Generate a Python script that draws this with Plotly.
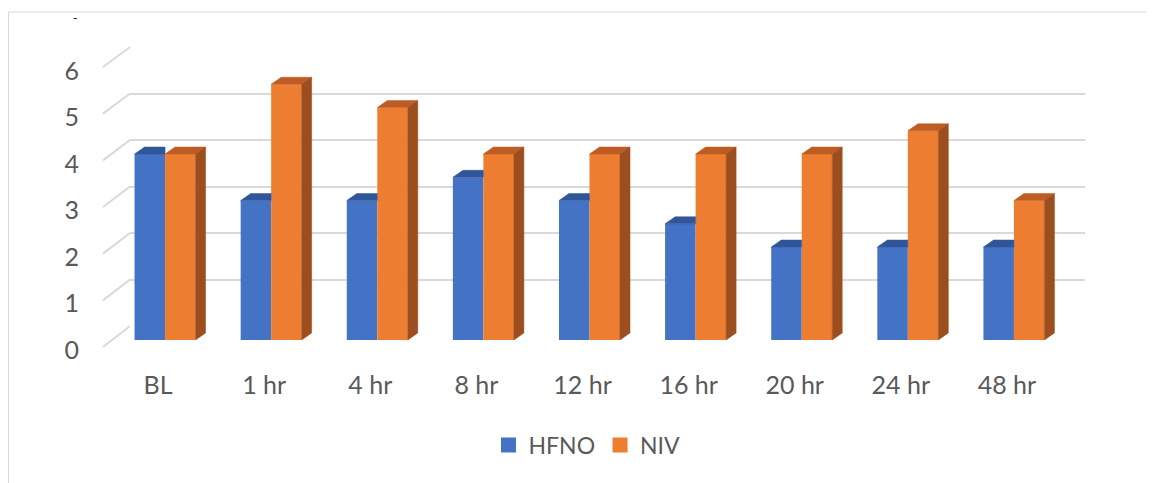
import plotly.graph_objects as go

# ---------------- data ----------------
categories = ["BL", "1 hr", "4 hr", "8 hr", "12 hr", "16 hr", "20 hr", "24 hr", "48 hr"]
hfno = [4, 3, 3, 3.5, 3, 2.5, 2, 2, 2]
niv = [4, 5.5, 5, 4, 4, 4, 4, 4.5, 3]
y_ticks = [0, 1, 2, 3, 4, 5, 6]
series_names = ["HFNO", "NIV"]

# ---------------- style / geometry (screen pixels) ----------------
OFF = 8                      # page body margin
W, H = 1154 - OFF, 483 - OFF
FONT = "Lato, 'Liberation Sans', Arial, sans-serif"
TXT = "#595959"
GRID = "#d9d9d9"
BLUE, BLUE_TOP = "#4472C4", "#30569A"
ORANGE, ORANGE_TOP, ORANGE_SIDE = "#ED7D31", "#BE5D23", "#9C4E1F"

N = len(categories)
YMAX = y_ticks[-1]
BAR_X = (112, 1067)          # front plane of bars, category band -0.5 .. N-0.5
BAR_Y0, UNIT = 340, 46.5     # pixel of value 0, pixels per unit
BACK_X = (130, 1085)         # back wall
BACK_Y0 = 326
FLOOR_X, FLOOR_Y0, FLOOR_Y6 = 103, 347, 67  # front edge of the floor
BARGAP = 0.425
DEPTH_PX = (10, 7)           # bar depth (right, up) in pixels


def px(p):
    return (p - OFF) / W


def py(p):
    return 1 - (p - OFF) / H


cat_px = (BAR_X[1] - BAR_X[0]) / N
dx = DEPTH_PX[0] / cat_px
dy = DEPTH_PX[1] / UNIT
bw = (1 - BARGAP) / 2

fig = go.Figure()

# front faces
fig.add_trace(go.Bar(x=list(range(N)), y=hfno, name=series_names[0], marker=dict(color=BLUE, line=dict(width=0)),
                     xaxis="x2", yaxis="y2", offsetgroup="a", showlegend=False, legendgroup="a"))
fig.add_trace(go.Bar(x=list(range(N)), y=niv, name=series_names[1], marker=dict(color=ORANGE, line=dict(width=0)),
                     xaxis="x2", yaxis="y2", offsetgroup="b", showlegend=False, legendgroup="b"))

# depth faces computed from data
bt_x, bt_y, ot_x, ot_y, os_x, os_y = [], [], [], [], [], []
for i in range(N):
    h = hfno[i]
    L, R = i - bw, i
    if niv[i] >= h:
        bt_x += [L, R, R, L + dx, L, None]
    else:
        bt_x += [L, R, R + dx, L + dx, L, None]
    bt_y += [h, h, h + dy, h + dy, h, None]
    h = niv[i]
    L, R = i, i + bw
    ot_x += [L, R, R + dx, L + dx, L, None]
    ot_y += [h, h, h + dy, h + dy, h, None]
    os_x += [R, R, R + dx, R + dx, R, None]
    os_y += [0, h, h + dy, dy, 0, None]

for xs, ys, col in [(bt_x, bt_y, BLUE_TOP), (ot_x, ot_y, ORANGE_TOP), (os_x, os_y, ORANGE_SIDE)]:
    fig.add_trace(go.Scatter(x=xs, y=ys, mode="lines", fill="toself", fillcolor=col,
                             line=dict(color=col, width=0.5), xaxis="x2", yaxis="y2",
                             showlegend=False, hoverinfo="skip", cliponaxis=False))

# legend entries (square swatches)
for name, col, grp in [(series_names[0], BLUE, "a"), (series_names[1], ORANGE, "b")]:
    fig.add_trace(go.Scatter(x=[None], y=[None], mode="markers", name=name, legendgroup=grp,
                             marker=dict(symbol="square", size=15, color=col), xaxis="x2", yaxis="y2"))

# back-wall gridlines (axes x/y)
pad = 0.02
fig.update_layout(
    xaxis=dict(domain=[px(BACK_X[0]), px(BACK_X[1])], range=[-0.5, N - 0.5], showgrid=False,
               showticklabels=False, zeroline=False, showline=False, anchor="y", fixedrange=True),
    yaxis=dict(domain=[py(BACK_Y0 + pad * UNIT), py(BACK_Y0 - (YMAX + pad) * UNIT)],
               range=[-pad, YMAX + pad], tickvals=y_ticks, showgrid=True, gridcolor=GRID, gridwidth=2,
               zeroline=False, showticklabels=False, showline=False, anchor="x"),
)
fig.add_trace(go.Scatter(x=[None], y=[None], xaxis="x", yaxis="y", showlegend=False, hoverinfo="skip"))

# bar axes (front plane), carries tick labels
fig.update_layout(
    xaxis2=dict(domain=[px(BAR_X[0]), px(BAR_X[1])], range=[-0.5, N - 0.5], tickmode="array",
                tickvals=list(range(N)), ticktext=categories, showgrid=False, zeroline=False,
                showline=False, ticks="", tickfont=dict(family=FONT, size=25, color=TXT),
                ticklabelshift=-7, ticklabelstandoff=28, anchor="y2", automargin=False),
    yaxis2=dict(domain=[py(BAR_Y0), py(BAR_Y0 - YMAX * UNIT)], range=[0, YMAX], tickvals=y_ticks,
                showgrid=False, zeroline=False, showline=False, ticks="",
                tickfont=dict(family=FONT, size=25, color=TXT), ticklabelshift=10,
                ticklabelstandoff=32, anchor="x2", automargin=False),
)

# floor-edge diagonals joining each gridline to the front
for v in y_ticks:
    fig.add_shape(type="line", xref="paper", yref="paper", layer="below",
                  x0=px(FLOOR_X), y0=py(FLOOR_Y0 - v * (FLOOR_Y0 - FLOOR_Y6) / YMAX),
                  x1=px(BACK_X[0]), y1=py(BACK_Y0 - v * UNIT),
                  line=dict(color=GRID, width=2))

# outer frame
fig.add_shape(type="rect", xref="paper", yref="paper", x0=px(8.5), x1=px(1153), y0=py(500), y1=py(12),
              line=dict(color=GRID, width=1), layer="below")
fig.add_annotation(text="-", x=px(75), y=1, xref="paper", yref="paper", showarrow=False,
                   font=dict(family=FONT, size=12, color="#000"), xanchor="center", yanchor="top")

fig.update_layout(
    width=W, height=H, margin=dict(l=0, r=0, t=0, b=0),
    paper_bgcolor="white", plot_bgcolor="rgba(0,0,0,0)",
    barmode="group", bargap=BARGAP, bargroupgap=0,
    legend=dict(orientation="h", x=px(587), xanchor="center", y=py(445), yanchor="middle",
                font=dict(family=FONT, size=23, color=TXT), itemwidth=30),
    showlegend=True,
)

fig.write_html("out.html")
